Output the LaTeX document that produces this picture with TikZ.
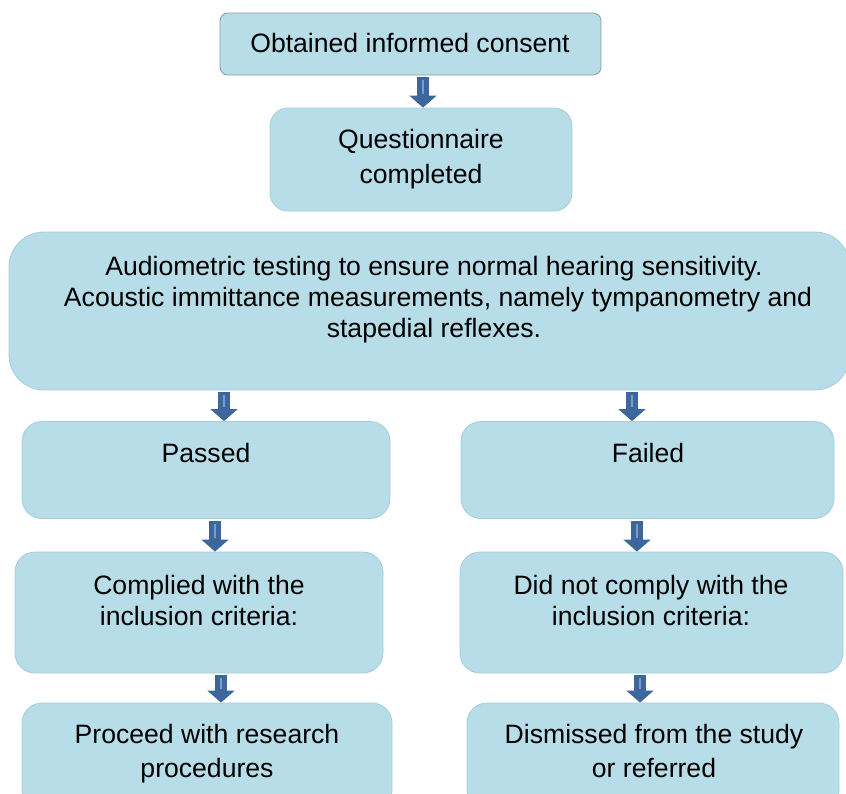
\documentclass[tikz,border=0pt]{standalone}
\usepackage{fontspec}
\setmainfont{Liberation Sans}
\usetikzlibrary{arrows.meta}
\definecolor{boxfill}{HTML}{B7DDE8}
\definecolor{boxline}{HTML}{A6CCDD}
\definecolor{topline}{HTML}{8E9A9E}
\definecolor{arrowblue}{HTML}{3D679C}
\definecolor{arrowstripe}{HTML}{7D9DC9}
\begin{document}
\begin{tikzpicture}[x=1pt,y=-1pt,
  box/.style 2 args={draw=boxline, line width=0.8pt, fill=boxfill, inner sep=0pt,
    minimum width=#1, minimum height=#2},
  txt/.style={font=\fontsize{26.6}{#1}\selectfont, align=center, inner sep=0pt, anchor=base},
  blk/.style={draw=arrowblue, line width=12.7pt, shorten <=2pt,
    -{Triangle[width=26.7pt,length=12pt]}},
  stripe/.style={draw=arrowstripe, line width=1.2pt, shorten <=5pt, shorten >=14pt}
]
\useasboundingbox (0,0) rectangle (846,793);
\clip (0,0) rectangle (846,793);
% boxes
\node[box={381pt}{62pt}, draw=topline, rounded corners=8pt] (b1) at (410.5,44) {};
\node[box={302pt}{103pt}, rounded corners=18pt] (b2) at (421,159.5) {};
\node[box={841pt}{158pt}, rounded corners=35pt] (b3) at (429.5,311) {};
\node[box={368pt}{97pt}, rounded corners=20pt] (b4) at (206,470) {};
\node[box={373pt}{97pt}, rounded corners=20pt] (b5) at (647.5,470) {};
\node[box={368pt}{121pt}, rounded corners=20pt] (b6) at (199,612.5) {};
\node[box={383pt}{121pt}, rounded corners=20pt] (b7) at (651.5,612.5) {};
\node[box={370pt}{107pt}, rounded corners=20pt] (b8) at (207,756.5) {};
\node[box={372pt}{107pt}, rounded corners=20pt] (b9) at (653,756.5) {};
% texts
\node[txt=31] (t1) at (410,52) {Obtained informed consent};
\node[txt=35] (t2) at (421,183) {Questionnaire\\completed};
\node[txt=31] (t3) at (434,337) {Audiometric testing to ensure normal hearing sensitivity.\\
  \hspace*{8pt}Acoustic immittance measurements, namely tympanometry and\\stapedial reflexes.};
\node[txt=31] (t4) at (206,462) {Passed};
\node[txt=31] (t5) at (648,462) {Failed};
\node[txt=31] (t6) at (199,625) {Complied with the\\inclusion criteria:};
\node[txt=31] (t7) at (651,625) {Did not comply with the\\inclusion criteria:};
\node[txt=34] (t8) at (207,777) {Proceed with research\\procedures};
\node[txt=34] (t9) at (654,777) {Dismissed from the study\\or referred};
% arrows
\draw[blk] (b1.south -| 423,0) -- (b2.north -| 423,0);
\draw[stripe] (b1.south -| 423,0) -- (b2.north -| 423,0);
\draw[blk] (b3.south -| 224,0) -- (b4.north -| 224,0);
\draw[stripe] (b3.south -| 224,0) -- (b4.north -| 224,0);
\draw[blk] (b3.south -| 632,0) -- (b5.north -| 632,0);
\draw[stripe] (b3.south -| 632,0) -- (b5.north -| 632,0);
\draw[blk] (b4.south -| 215,0) -- (b6.north -| 215,0);
\draw[stripe] (b4.south -| 215,0) -- (b6.north -| 215,0);
\draw[blk] (b5.south -| 637,0) -- (b7.north -| 637,0);
\draw[stripe] (b5.south -| 637,0) -- (b7.north -| 637,0);
\draw[blk] (b6.south -| 221,0) -- (b8.north -| 221,0);
\draw[stripe] (b6.south -| 221,0) -- (b8.north -| 221,0);
\draw[blk] (b7.south -| 640,0) -- (b9.north -| 640,0);
\draw[stripe] (b7.south -| 640,0) -- (b9.north -| 640,0);
\end{tikzpicture}
\end{document}
